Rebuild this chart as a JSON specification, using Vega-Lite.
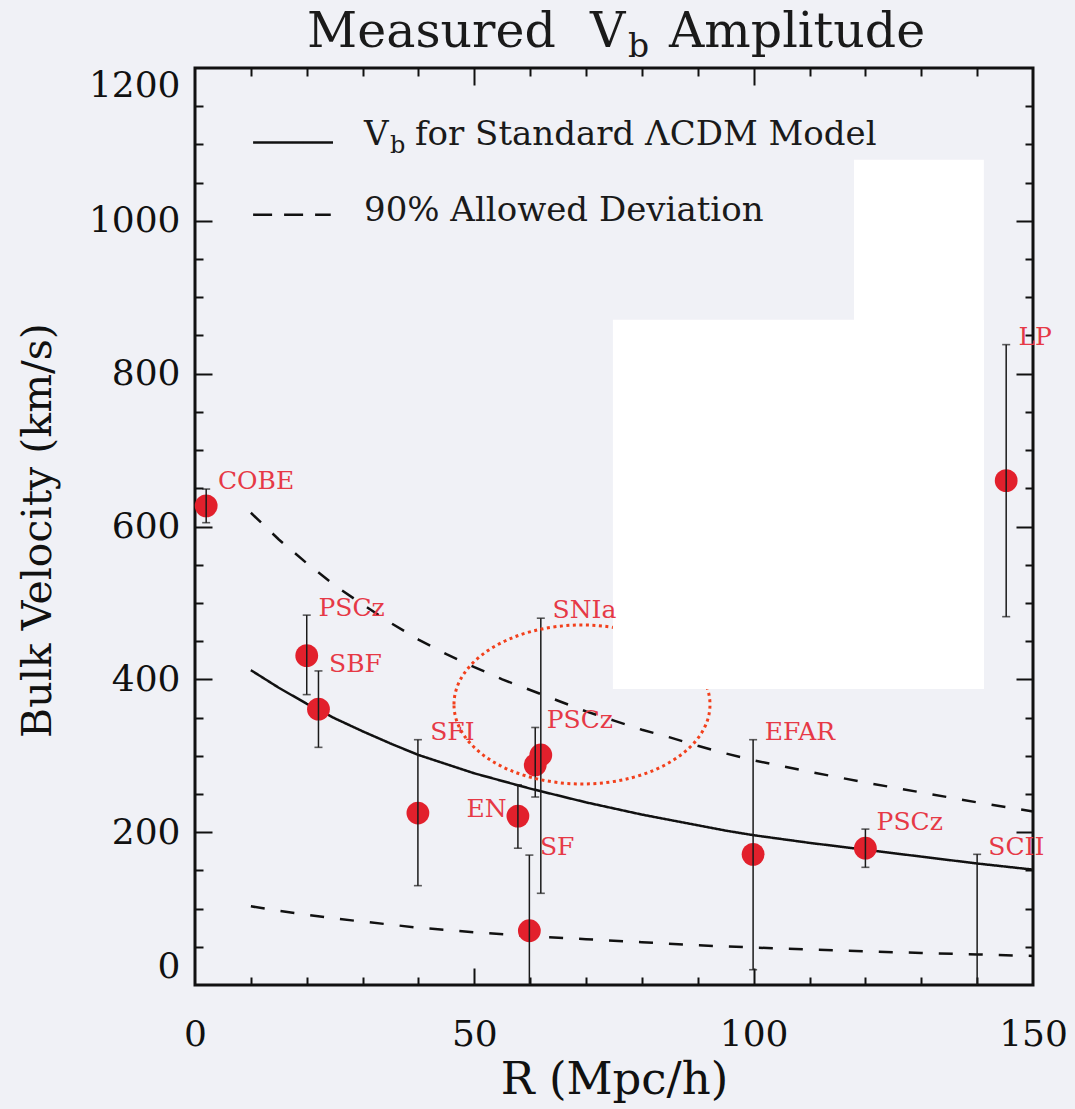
{
  "$schema": "https://vega.github.io/schema/vega-lite/v6.json",
  "width": 838,
  "height": 917,
  "autosize": {"type": "none"},
  "padding": {"left": 195, "top": 68, "right": 42, "bottom": 124},
  "background": "#f0f1f6",
  "config": {
    "view": {"stroke": "#111111", "strokeWidth": 3},
    "axis": {
      "grid": false, "domain": false, "tickColor": "#111111", "tickWidth": 2,
      "labelFont": "DejaVu Serif", "labelFontSize": 36, "labelColor": "#111111",
      "titleFont": "DejaVu Serif", "titleFontWeight": "normal", "titleColor": "#111111",
      "labelOverlap": false, "labelBound": false
    }
  },
  "datasets": {
    "curves": [
      {"s": "model", "d": "solid", "r": 10, "v": 412}, {"s": "model", "d": "solid", "r": 15, "v": 389},
      {"s": "model", "d": "solid", "r": 20, "v": 368}, {"s": "model", "d": "solid", "r": 25, "v": 349},
      {"s": "model", "d": "solid", "r": 30, "v": 332}, {"s": "model", "d": "solid", "r": 35, "v": 316},
      {"s": "model", "d": "solid", "r": 40, "v": 301}, {"s": "model", "d": "solid", "r": 45, "v": 289},
      {"s": "model", "d": "solid", "r": 50, "v": 277}, {"s": "model", "d": "solid", "r": 55, "v": 267},
      {"s": "model", "d": "solid", "r": 60, "v": 257}, {"s": "model", "d": "solid", "r": 65, "v": 248},
      {"s": "model", "d": "solid", "r": 70, "v": 239}, {"s": "model", "d": "solid", "r": 75, "v": 231},
      {"s": "model", "d": "solid", "r": 80, "v": 223}, {"s": "model", "d": "solid", "r": 85, "v": 216},
      {"s": "model", "d": "solid", "r": 90, "v": 209}, {"s": "model", "d": "solid", "r": 95, "v": 202},
      {"s": "model", "d": "solid", "r": 100, "v": 196}, {"s": "model", "d": "solid", "r": 110, "v": 186},
      {"s": "model", "d": "solid", "r": 120, "v": 177}, {"s": "model", "d": "solid", "r": 130, "v": 168},
      {"s": "model", "d": "solid", "r": 140, "v": 159}, {"s": "model", "d": "solid", "r": 150, "v": 151},
      {"s": "upper", "d": "dash", "r": 10, "v": 618}, {"s": "upper", "d": "dash", "r": 15, "v": 583},
      {"s": "upper", "d": "dash", "r": 20, "v": 552}, {"s": "upper", "d": "dash", "r": 25, "v": 523},
      {"s": "upper", "d": "dash", "r": 30, "v": 498}, {"s": "upper", "d": "dash", "r": 35, "v": 474},
      {"s": "upper", "d": "dash", "r": 40, "v": 452}, {"s": "upper", "d": "dash", "r": 45, "v": 433},
      {"s": "upper", "d": "dash", "r": 50, "v": 416}, {"s": "upper", "d": "dash", "r": 55, "v": 400},
      {"s": "upper", "d": "dash", "r": 60, "v": 386}, {"s": "upper", "d": "dash", "r": 65, "v": 372},
      {"s": "upper", "d": "dash", "r": 70, "v": 358}, {"s": "upper", "d": "dash", "r": 75, "v": 346},
      {"s": "upper", "d": "dash", "r": 80, "v": 334}, {"s": "upper", "d": "dash", "r": 85, "v": 324},
      {"s": "upper", "d": "dash", "r": 90, "v": 313}, {"s": "upper", "d": "dash", "r": 95, "v": 303},
      {"s": "upper", "d": "dash", "r": 100, "v": 294}, {"s": "upper", "d": "dash", "r": 110, "v": 279},
      {"s": "upper", "d": "dash", "r": 120, "v": 265}, {"s": "upper", "d": "dash", "r": 130, "v": 252},
      {"s": "upper", "d": "dash", "r": 140, "v": 239}, {"s": "upper", "d": "dash", "r": 150, "v": 227},
      {"s": "lower", "d": "dash", "r": 10, "v": 103}, {"s": "lower", "d": "dash", "r": 15, "v": 97},
      {"s": "lower", "d": "dash", "r": 20, "v": 92}, {"s": "lower", "d": "dash", "r": 25, "v": 87},
      {"s": "lower", "d": "dash", "r": 30, "v": 83}, {"s": "lower", "d": "dash", "r": 35, "v": 79},
      {"s": "lower", "d": "dash", "r": 40, "v": 75}, {"s": "lower", "d": "dash", "r": 50, "v": 69},
      {"s": "lower", "d": "dash", "r": 60, "v": 64}, {"s": "lower", "d": "dash", "r": 70, "v": 60},
      {"s": "lower", "d": "dash", "r": 80, "v": 56}, {"s": "lower", "d": "dash", "r": 90, "v": 52},
      {"s": "lower", "d": "dash", "r": 100, "v": 49}, {"s": "lower", "d": "dash", "r": 110, "v": 46.5},
      {"s": "lower", "d": "dash", "r": 120, "v": 44}, {"s": "lower", "d": "dash", "r": 130, "v": 42},
      {"s": "lower", "d": "dash", "r": 140, "v": 40}, {"s": "lower", "d": "dash", "r": 150, "v": 38},
      {"s": "legsolid", "d": "solid", "r": 10.4, "v": 1102.5}, {"s": "legsolid", "d": "solid", "r": 24.7, "v": 1102.5},
      {"s": "legdash", "d": "legdash", "r": 10.4, "v": 1008}, {"s": "legdash", "d": "legdash", "r": 24.3, "v": 1008}
    ],
    "meas": [
      {"name": "COBE", "r": 2.0, "v": 627, "lo": 605, "hi": 649},
      {"name": "PSCz", "r": 20.0, "v": 431, "lo": 380, "hi": 484},
      {"name": "SBF", "r": 22.1, "v": 361, "lo": 311, "hi": 411},
      {"name": "SFI", "r": 39.9, "v": 225, "lo": 130, "hi": 321},
      {"name": "EN", "r": 57.8, "v": 221, "lo": 179, "hi": 262},
      {"name": "SF", "r": 59.85, "v": 71, "lo": -28, "hi": 170},
      {"name": "PSCz", "r": 60.9, "v": 288, "lo": 246, "hi": 337},
      {"name": "SNIa", "r": 61.9, "v": 301, "lo": 120, "hi": 480},
      {"name": "EFAR", "r": 99.9, "v": 171, "lo": 20, "hi": 321},
      {"name": "PSCz", "r": 120.0, "v": 179, "lo": 154, "hi": 204},
      {"name": "SCII", "r": 140.0, "v": null, "lo": -170, "hi": 171},
      {"name": "LP", "r": 145.2, "v": 660, "lo": 482, "hi": 838}
    ],
    "texts": [
      {"t": "Measured", "x": 20.05, "y": 1227.7, "k": "title"},
      {"t": "V", "x": 70.7, "y": 1227.7, "k": "title"},
      {"t": "b", "x": 77.5, "y": 1214.7, "k": "tsub"},
      {"t": "Amplitude", "x": 84.84, "y": 1227.7, "k": "title"},
      {"t": "V", "x": 30.25, "y": 1099.5, "k": "leg"},
      {"t": "b", "x": 34.9, "y": 1089, "k": "lsub"},
      {"t": "for Standard ΛCDM Model", "x": 39.38, "y": 1099.5, "k": "leg"},
      {"t": "90% Allowed Deviation", "x": 30.25, "y": 1000, "k": "leg"},
      {"t": "COBE", "x": 4.1, "y": 649, "k": "lab"},
      {"t": "PSCz", "x": 22.1, "y": 483, "k": "lab"},
      {"t": "SBF", "x": 24.0, "y": 410, "k": "lab"},
      {"t": "SFI", "x": 42.1, "y": 320, "k": "lab"},
      {"t": "EN", "x": 48.6, "y": 220, "k": "lab"},
      {"t": "SF", "x": 61.75, "y": 170, "k": "lab"},
      {"t": "SNIa", "x": 64.0, "y": 480, "k": "lab"},
      {"t": "PSCz", "x": 62.95, "y": 336, "k": "lab"},
      {"t": "EFAR", "x": 102.0, "y": 320, "k": "lab"},
      {"t": "PSCz", "x": 122.0, "y": 203, "k": "lab"},
      {"t": "SCII", "x": 142.0, "y": 170, "k": "lab"},
      {"t": "LP", "x": 147.4, "y": 837, "k": "lab"}
    ],
    "ellipse": [{"x": 69.27, "y": 367.1}],
    "boxes": [
      {"x1": 74.8, "x2": 141.2, "y1": 387.4, "y2": 870.4},
      {"x1": 117.95, "x2": 141.2, "y1": 387.4, "y2": 1079.8}
    ]
  },
  "layer": [
    {
      "data": {"name": "curves"},
      "mark": {"type": "line", "color": "#111111", "strokeWidth": 2.5},
      "encoding": {
        "x": {"field": "r", "type": "quantitative", "scale": {"domain": [0, 150], "nice": false, "zero": false},
          "axis": {"orient": "bottom", "values": [0, 50, 100, 150], "ticks": false, "tickSize": 0, "labelPadding": 60,
            "labelBaseline": "alphabetic", "labelFlush": false, "format": "d", "title": "R (Mpc/h)", "titleFontSize": 45,
            "titleX": 419, "titleY": 108, "titleBaseline": "alphabetic"}},
        "y": {"field": "v", "type": "quantitative", "scale": {"domain": [0, 1200], "nice": false, "zero": false},
          "axis": {"orient": "left", "values": [0, 200, 400, 600, 800, 1000, 1200], "ticks": false, "tickSize": 0,
            "labelPadding": 15, "labelFlush": true, "labelFlushOffset": 0, "format": "d", "title": "Bulk Velocity (km/s)",
            "titleFontSize": 41, "titleX": -145, "titleY": 462, "titleAngle": 270, "titleAlign": "center", "titleBaseline": "alphabetic"}},
        "detail": {"field": "s", "type": "nominal"},
        "strokeDash": {"field": "d", "type": "nominal", "legend": null,
          "scale": {"domain": ["solid", "dash", "legdash"], "range": [[1, 0], [14, 16], [19, 12]]}}
      }
    },
    {
      "data": {"name": "meas"},
      "mark": {"type": "circle", "size": 520, "color": "#e2202c", "opacity": 1},
      "encoding": {
        "x": {"field": "r", "type": "quantitative", "scale": {"domain": [0, 150], "nice": false, "zero": false},
          "axis": {"orient": "bottom", "values": [50, 100], "tickSize": -17, "labels": false, "title": null}},
        "y": {"field": "v", "type": "quantitative", "scale": {"domain": [0, 1200], "nice": false, "zero": false},
          "axis": {"orient": "left", "values": [200, 400, 600, 800, 1000], "tickSize": -17, "labels": false, "title": null}}
      }
    },
    {
      "data": {"name": "meas"},
      "mark": {"type": "rule", "color": "#1a1a1a", "strokeWidth": 1.5, "clip": true},
      "encoding": {
        "x": {"field": "r", "type": "quantitative", "scale": {"domain": [0, 150], "nice": false, "zero": false},
          "axis": {"orient": "bottom", "values": [10, 20, 30, 40, 60, 70, 80, 90, 110, 120, 130, 140], "tickSize": -8, "labels": false, "title": null}},
        "y": {"field": "lo", "type": "quantitative", "scale": {"domain": [0, 1200], "nice": false, "zero": false},
          "axis": {"orient": "left", "values": [50, 100, 150, 250, 300, 350, 450, 500, 550, 650, 700, 750, 850, 900, 950, 1050, 1100, 1150], "tickSize": -8, "labels": false, "title": null}},
        "y2": {"field": "hi"}
      }
    },
    {
      "data": {"name": "meas"},
      "transform": [{"fold": ["lo", "hi"], "as": ["end", "cv"]}],
      "mark": {"type": "tick", "orient": "horizontal", "size": 8, "thickness": 1.6, "color": "#1a1a1a", "clip": true},
      "encoding": {
        "x": {"field": "r", "type": "quantitative", "scale": {"domain": [0, 150], "nice": false, "zero": false},
          "axis": {"orient": "top", "values": [50, 100], "tickSize": -17, "labels": false, "title": null}},
        "y": {"field": "cv", "type": "quantitative", "scale": {"domain": [0, 1200], "nice": false, "zero": false},
          "axis": {"orient": "right", "values": [200, 400, 600, 800, 1000], "tickSize": -17, "labels": false, "title": null}}
      }
    },
    {
      "data": {"name": "ellipse"},
      "mark": {"type": "point", "shape": "M -1 0 C -1 -0.343 -0.552 -0.621 0 -0.621 C 0.552 -0.621 1 -0.343 1 0 C 1 0.343 0.552 0.621 0 0.621 C -0.552 0.621 -1 0.343 -1 0 Z",
        "size": 65536, "filled": false, "stroke": "#f2401c", "strokeWidth": 3, "strokeDash": [3, 3.5], "opacity": 1},
      "encoding": {
        "x": {"field": "x", "type": "quantitative", "scale": {"domain": [0, 150], "nice": false, "zero": false}, "axis": null},
        "y": {"field": "y", "type": "quantitative", "scale": {"domain": [0, 1200], "nice": false, "zero": false}, "axis": null}
      }
    },
    {
      "data": {"name": "boxes"},
      "mark": {"type": "rect", "color": "#ffffff", "opacity": 1},
      "encoding": {
        "x": {"field": "x1", "type": "quantitative", "scale": {"domain": [0, 150], "nice": false, "zero": false}, "axis": null},
        "x2": {"field": "x2"},
        "y": {"field": "y1", "type": "quantitative", "scale": {"domain": [0, 1200], "nice": false, "zero": false}, "axis": null},
        "y2": {"field": "y2"}
      }
    },
    {
      "data": {"name": "texts"},
      "mark": {"type": "text", "font": "DejaVu Serif", "align": "left", "baseline": "alphabetic"},
      "encoding": {
        "x": {"field": "x", "type": "quantitative", "scale": {"domain": [0, 150], "nice": false, "zero": false},
          "axis": {"orient": "top", "values": [10, 20, 30, 40, 60, 70, 80, 90, 110, 120, 130, 140], "tickSize": -8, "labels": false, "title": null}},
        "y": {"field": "y", "type": "quantitative", "scale": {"domain": [0, 1200], "nice": false, "zero": false},
          "axis": {"orient": "right", "values": [50, 100, 150, 250, 300, 350, 450, 500, 550, 650, 700, 750, 850, 900, 950, 1050, 1100, 1150], "tickSize": -8, "labels": false, "title": null}},
        "text": {"field": "t"},
        "size": {"field": "k", "type": "nominal", "legend": null,
          "scale": {"type": "ordinal", "domain": ["title", "tsub", "leg", "lsub", "lab"], "range": [49, 33, 34, 24, 25]}},
        "color": {"field": "k", "type": "nominal", "legend": null,
          "scale": {"domain": ["title", "tsub", "leg", "lsub", "lab"], "range": ["#1a1a1a", "#1a1a1a", "#1a1a1a", "#1a1a1a", "#e63946"]}}
      }
    }
  ],
  "resolve": {"axis": {"x": "independent", "y": "independent"}}
}
